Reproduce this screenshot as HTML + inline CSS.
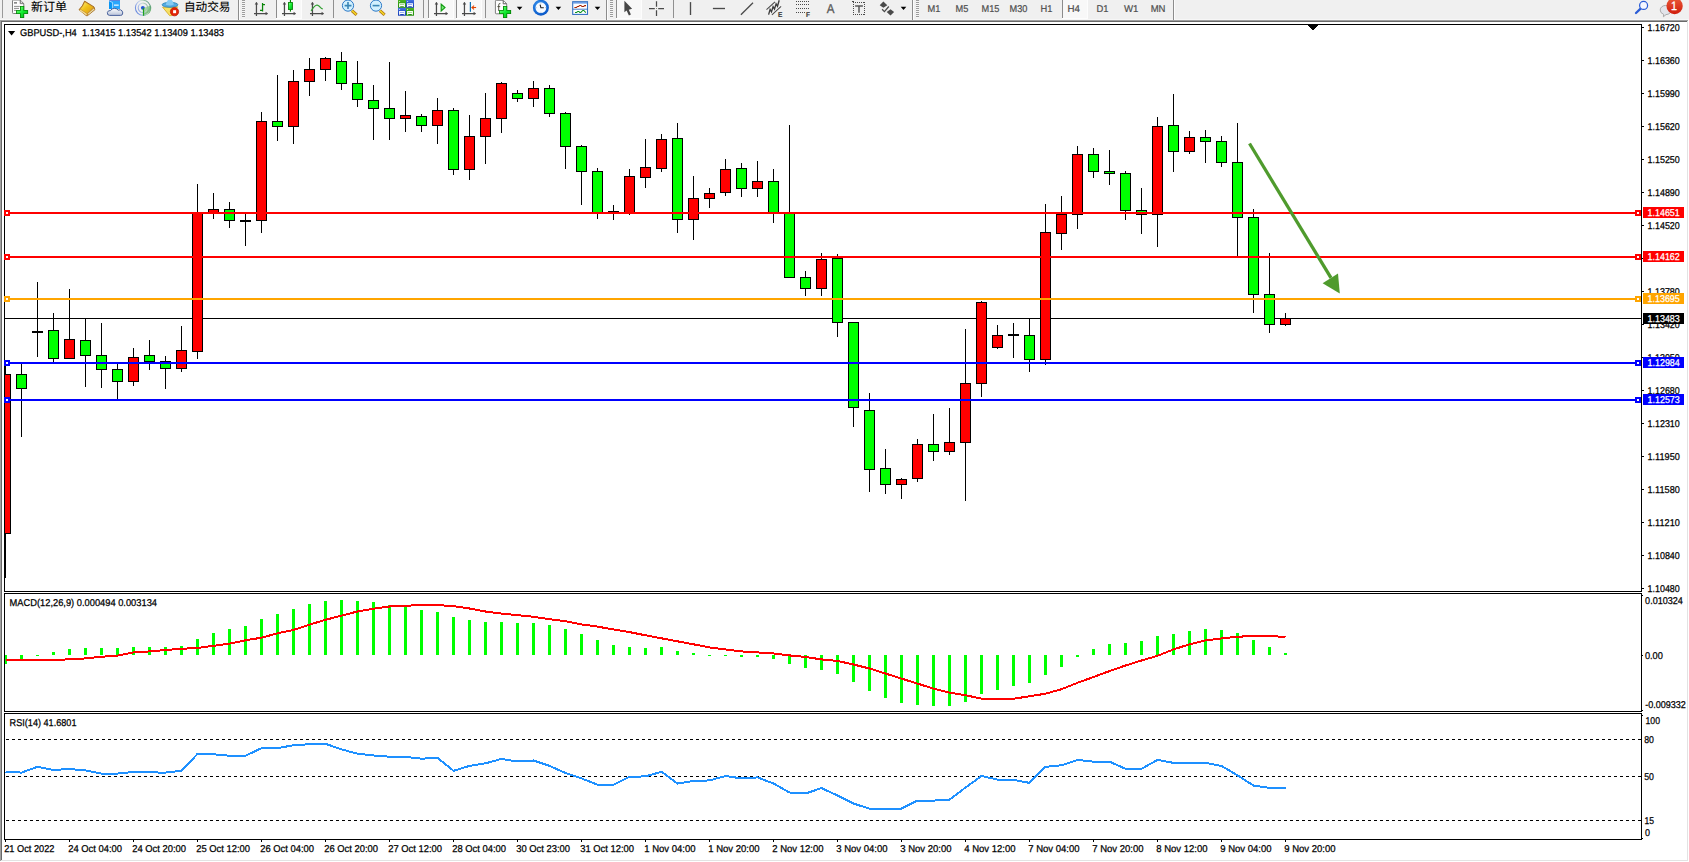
<!DOCTYPE html>
<html lang="zh"><head><meta charset="utf-8"><title>GBPUSD-,H4</title>
<style>html,body{margin:0;padding:0;background:#f0f0f0;overflow:hidden}svg text{font-family:"Liberation Sans","Noto Sans CJK SC",sans-serif}</style></head>
<body>
<svg width="1689" height="862" viewBox="0 0 1689 862" font-family="Liberation Sans, Noto Sans CJK SC, sans-serif" style="display:block">
<defs><clipPath id="cm"><rect x="5" y="25" width="1636" height="566"/></clipPath><clipPath id="c2"><rect x="5" y="594" width="1636" height="117"/></clipPath><clipPath id="c3"><rect x="5" y="714" width="1636" height="125"/></clipPath><linearGradient id="gp" x1="0" y1="0" x2="1" y2="1"><stop offset="0" stop-color="#8cff8c"/><stop offset="0.5" stop-color="#10ec30"/><stop offset="1" stop-color="#00b814"/></linearGradient><linearGradient id="gy" x1="0" y1="0" x2="1" y2="1"><stop offset="0" stop-color="#fff080"/><stop offset="0.45" stop-color="#f0c21c"/><stop offset="1" stop-color="#dc9a10"/></linearGradient><linearGradient id="gr" x1="0" y1="0" x2="0" y2="1"><stop offset="0" stop-color="#ea5a38"/><stop offset="1" stop-color="#d01c0c"/></linearGradient><linearGradient id="gc" x1="0" y1="0" x2="0" y2="1"><stop offset="0" stop-color="#ffffff"/><stop offset="1" stop-color="#b8c2d8"/></linearGradient><linearGradient id="gg" x1="0" y1="0" x2="0" y2="1"><stop offset="0" stop-color="#4ab422"/><stop offset="1" stop-color="#1f8a08"/></linearGradient><linearGradient id="gbl" x1="0" y1="0" x2="0" y2="1"><stop offset="0" stop-color="#4272e2"/><stop offset="1" stop-color="#1038b2"/></linearGradient><linearGradient id="gs" x1="0" y1="0" x2="1" y2="1"><stop offset="0" stop-color="#cfe8c8" stop-opacity="0.8"/><stop offset="1" stop-color="#2f9f2f"/></linearGradient><linearGradient id="gsig" gradientUnits="userSpaceOnUse" x1="135" y1="12" x2="151" y2="4"><stop offset="0" stop-color="#3c68d8"/><stop offset="0.45" stop-color="#b8c8ec"/><stop offset="0.6" stop-color="#c4dcc8"/><stop offset="1" stop-color="#2c7c5c"/></linearGradient><radialGradient id="gb" cx="0.4" cy="0.35" r="0.7"><stop offset="0" stop-color="#3f9cf4"/><stop offset="1" stop-color="#0452c4"/></radialGradient></defs>
<rect width="1689" height="862" fill="#f0f0f0"/>
<g shape-rendering="crispEdges">
<rect x="0" y="19" width="1689" height="1" fill="#f7f7f7"/>
<rect x="0" y="20" width="1689" height="842" fill="#fff"/>
<rect x="0" y="20" width="1688" height="1" fill="#a0a0a0"/>
<rect x="0" y="20" width="1" height="841" fill="#a0a0a0"/>
<rect x="1" y="21" width="1687" height="1" fill="#696969"/>
<rect x="1" y="21" width="1" height="839" fill="#696969"/>
<rect x="1687" y="21" width="1" height="840" fill="#e3e3e3"/>
<rect x="1" y="860" width="1687" height="1" fill="#e3e3e3"/>
</g>
<g shape-rendering="crispEdges">
<g clip-path="url(#cm)">
<rect x="5" y="318" width="1636" height="1" fill="#000"/>
<rect x="5" y="364" width="1" height="214" fill="#000"/>
<rect x="0" y="374" width="11" height="160" fill="#000"/>
<rect x="1" y="375" width="9" height="158" fill="#ff0000"/>
<rect x="21" y="364" width="1" height="73" fill="#000"/>
<rect x="16" y="374" width="11" height="15" fill="#000"/>
<rect x="17" y="375" width="9" height="13" fill="#00ff00"/>
<rect x="37" y="282" width="1" height="75" fill="#000"/>
<rect x="32" y="331" width="11" height="2" fill="#000"/>
<rect x="53" y="313" width="1" height="49" fill="#000"/>
<rect x="48" y="330" width="11" height="29" fill="#000"/>
<rect x="49" y="331" width="9" height="27" fill="#00ff00"/>
<rect x="69" y="289" width="1" height="70" fill="#000"/>
<rect x="64" y="339" width="11" height="20" fill="#000"/>
<rect x="65" y="340" width="9" height="18" fill="#ff0000"/>
<rect x="85" y="319" width="1" height="68" fill="#000"/>
<rect x="80" y="340" width="11" height="16" fill="#000"/>
<rect x="81" y="341" width="9" height="14" fill="#00ff00"/>
<rect x="101" y="323" width="1" height="65" fill="#000"/>
<rect x="96" y="355" width="11" height="15" fill="#000"/>
<rect x="97" y="356" width="9" height="13" fill="#00ff00"/>
<rect x="117" y="364" width="1" height="35" fill="#000"/>
<rect x="112" y="369" width="11" height="13" fill="#000"/>
<rect x="113" y="370" width="9" height="11" fill="#00ff00"/>
<rect x="133" y="348" width="1" height="38" fill="#000"/>
<rect x="128" y="357" width="11" height="25" fill="#000"/>
<rect x="129" y="358" width="9" height="23" fill="#ff0000"/>
<rect x="149" y="340" width="1" height="30" fill="#000"/>
<rect x="144" y="355" width="11" height="7" fill="#000"/>
<rect x="145" y="356" width="9" height="5" fill="#00ff00"/>
<rect x="165" y="356" width="1" height="33" fill="#000"/>
<rect x="160" y="361" width="11" height="8" fill="#000"/>
<rect x="161" y="362" width="9" height="6" fill="#00ff00"/>
<rect x="181" y="326" width="1" height="46" fill="#000"/>
<rect x="176" y="350" width="11" height="19" fill="#000"/>
<rect x="177" y="351" width="9" height="17" fill="#ff0000"/>
<rect x="197" y="184" width="1" height="175" fill="#000"/>
<rect x="192" y="213" width="11" height="139" fill="#000"/>
<rect x="193" y="214" width="9" height="137" fill="#ff0000"/>
<rect x="213" y="193" width="1" height="26" fill="#000"/>
<rect x="208" y="209" width="11" height="5" fill="#000"/>
<rect x="209" y="210" width="9" height="3" fill="#ff0000"/>
<rect x="229" y="202" width="1" height="26" fill="#000"/>
<rect x="224" y="209" width="11" height="12" fill="#000"/>
<rect x="225" y="210" width="9" height="10" fill="#00ff00"/>
<rect x="245" y="213" width="1" height="33" fill="#000"/>
<rect x="240" y="220" width="11" height="2" fill="#000"/>
<rect x="261" y="112" width="1" height="121" fill="#000"/>
<rect x="256" y="121" width="11" height="100" fill="#000"/>
<rect x="257" y="122" width="9" height="98" fill="#ff0000"/>
<rect x="277" y="75" width="1" height="66" fill="#000"/>
<rect x="272" y="121" width="11" height="6" fill="#000"/>
<rect x="273" y="122" width="9" height="4" fill="#00ff00"/>
<rect x="293" y="70" width="1" height="74" fill="#000"/>
<rect x="288" y="81" width="11" height="46" fill="#000"/>
<rect x="289" y="82" width="9" height="44" fill="#ff0000"/>
<rect x="309" y="58" width="1" height="38" fill="#000"/>
<rect x="304" y="69" width="11" height="13" fill="#000"/>
<rect x="305" y="70" width="9" height="11" fill="#ff0000"/>
<rect x="325" y="57" width="1" height="24" fill="#000"/>
<rect x="320" y="58" width="11" height="12" fill="#000"/>
<rect x="321" y="59" width="9" height="10" fill="#ff0000"/>
<rect x="341" y="52" width="1" height="38" fill="#000"/>
<rect x="336" y="61" width="11" height="23" fill="#000"/>
<rect x="337" y="62" width="9" height="21" fill="#00ff00"/>
<rect x="357" y="61" width="1" height="46" fill="#000"/>
<rect x="352" y="83" width="11" height="17" fill="#000"/>
<rect x="353" y="84" width="9" height="15" fill="#00ff00"/>
<rect x="373" y="85" width="1" height="55" fill="#000"/>
<rect x="368" y="100" width="11" height="9" fill="#000"/>
<rect x="369" y="101" width="9" height="7" fill="#00ff00"/>
<rect x="389" y="62" width="1" height="78" fill="#000"/>
<rect x="384" y="108" width="11" height="11" fill="#000"/>
<rect x="385" y="109" width="9" height="9" fill="#00ff00"/>
<rect x="405" y="91" width="1" height="41" fill="#000"/>
<rect x="400" y="115" width="11" height="4" fill="#000"/>
<rect x="401" y="116" width="9" height="2" fill="#ff0000"/>
<rect x="421" y="114" width="1" height="18" fill="#000"/>
<rect x="416" y="116" width="11" height="10" fill="#000"/>
<rect x="417" y="117" width="9" height="8" fill="#00ff00"/>
<rect x="437" y="98" width="1" height="46" fill="#000"/>
<rect x="432" y="110" width="11" height="16" fill="#000"/>
<rect x="433" y="111" width="9" height="14" fill="#ff0000"/>
<rect x="453" y="108" width="1" height="67" fill="#000"/>
<rect x="448" y="110" width="11" height="60" fill="#000"/>
<rect x="449" y="111" width="9" height="58" fill="#00ff00"/>
<rect x="469" y="115" width="1" height="65" fill="#000"/>
<rect x="464" y="136" width="11" height="34" fill="#000"/>
<rect x="465" y="137" width="9" height="32" fill="#ff0000"/>
<rect x="485" y="93" width="1" height="71" fill="#000"/>
<rect x="480" y="118" width="11" height="19" fill="#000"/>
<rect x="481" y="119" width="9" height="17" fill="#ff0000"/>
<rect x="501" y="82" width="1" height="51" fill="#000"/>
<rect x="496" y="83" width="11" height="36" fill="#000"/>
<rect x="497" y="84" width="9" height="34" fill="#ff0000"/>
<rect x="517" y="90" width="1" height="12" fill="#000"/>
<rect x="512" y="93" width="11" height="6" fill="#000"/>
<rect x="513" y="94" width="9" height="4" fill="#00ff00"/>
<rect x="533" y="81" width="1" height="26" fill="#000"/>
<rect x="528" y="88" width="11" height="11" fill="#000"/>
<rect x="529" y="89" width="9" height="9" fill="#ff0000"/>
<rect x="549" y="85" width="1" height="32" fill="#000"/>
<rect x="544" y="88" width="11" height="26" fill="#000"/>
<rect x="545" y="89" width="9" height="24" fill="#00ff00"/>
<rect x="565" y="112" width="1" height="57" fill="#000"/>
<rect x="560" y="113" width="11" height="34" fill="#000"/>
<rect x="561" y="114" width="9" height="32" fill="#00ff00"/>
<rect x="581" y="145" width="1" height="60" fill="#000"/>
<rect x="576" y="146" width="11" height="26" fill="#000"/>
<rect x="577" y="147" width="9" height="24" fill="#00ff00"/>
<rect x="597" y="168" width="1" height="51" fill="#000"/>
<rect x="592" y="171" width="11" height="42" fill="#000"/>
<rect x="593" y="172" width="9" height="40" fill="#00ff00"/>
<rect x="613" y="205" width="1" height="15" fill="#000"/>
<rect x="608" y="211" width="11" height="2" fill="#000"/>
<rect x="629" y="169" width="1" height="46" fill="#000"/>
<rect x="624" y="176" width="11" height="38" fill="#000"/>
<rect x="625" y="177" width="9" height="36" fill="#ff0000"/>
<rect x="645" y="139" width="1" height="49" fill="#000"/>
<rect x="640" y="167" width="11" height="11" fill="#000"/>
<rect x="641" y="168" width="9" height="9" fill="#ff0000"/>
<rect x="661" y="134" width="1" height="38" fill="#000"/>
<rect x="656" y="139" width="11" height="30" fill="#000"/>
<rect x="657" y="140" width="9" height="28" fill="#ff0000"/>
<rect x="677" y="123" width="1" height="110" fill="#000"/>
<rect x="672" y="138" width="11" height="82" fill="#000"/>
<rect x="673" y="139" width="9" height="80" fill="#00ff00"/>
<rect x="693" y="176" width="1" height="64" fill="#000"/>
<rect x="688" y="198" width="11" height="22" fill="#000"/>
<rect x="689" y="199" width="9" height="20" fill="#ff0000"/>
<rect x="709" y="188" width="1" height="20" fill="#000"/>
<rect x="704" y="193" width="11" height="6" fill="#000"/>
<rect x="705" y="194" width="9" height="4" fill="#ff0000"/>
<rect x="725" y="159" width="1" height="37" fill="#000"/>
<rect x="720" y="169" width="11" height="24" fill="#000"/>
<rect x="721" y="170" width="9" height="22" fill="#ff0000"/>
<rect x="741" y="163" width="1" height="34" fill="#000"/>
<rect x="736" y="168" width="11" height="21" fill="#000"/>
<rect x="737" y="169" width="9" height="19" fill="#00ff00"/>
<rect x="757" y="161" width="1" height="36" fill="#000"/>
<rect x="752" y="181" width="11" height="8" fill="#000"/>
<rect x="753" y="182" width="9" height="6" fill="#ff0000"/>
<rect x="773" y="169" width="1" height="54" fill="#000"/>
<rect x="768" y="181" width="11" height="33" fill="#000"/>
<rect x="769" y="182" width="9" height="31" fill="#00ff00"/>
<rect x="789" y="125" width="1" height="153" fill="#000"/>
<rect x="784" y="213" width="11" height="65" fill="#000"/>
<rect x="785" y="214" width="9" height="63" fill="#00ff00"/>
<rect x="805" y="271" width="1" height="25" fill="#000"/>
<rect x="800" y="277" width="11" height="12" fill="#000"/>
<rect x="801" y="278" width="9" height="10" fill="#00ff00"/>
<rect x="821" y="253" width="1" height="43" fill="#000"/>
<rect x="816" y="259" width="11" height="30" fill="#000"/>
<rect x="817" y="260" width="9" height="28" fill="#ff0000"/>
<rect x="837" y="254" width="1" height="83" fill="#000"/>
<rect x="832" y="258" width="11" height="65" fill="#000"/>
<rect x="833" y="259" width="9" height="63" fill="#00ff00"/>
<rect x="853" y="322" width="1" height="105" fill="#000"/>
<rect x="848" y="322" width="11" height="86" fill="#000"/>
<rect x="849" y="323" width="9" height="84" fill="#00ff00"/>
<rect x="869" y="393" width="1" height="99" fill="#000"/>
<rect x="864" y="410" width="11" height="60" fill="#000"/>
<rect x="865" y="411" width="9" height="58" fill="#00ff00"/>
<rect x="885" y="449" width="1" height="45" fill="#000"/>
<rect x="880" y="468" width="11" height="17" fill="#000"/>
<rect x="881" y="469" width="9" height="15" fill="#00ff00"/>
<rect x="901" y="478" width="1" height="21" fill="#000"/>
<rect x="896" y="479" width="11" height="6" fill="#000"/>
<rect x="897" y="480" width="9" height="4" fill="#ff0000"/>
<rect x="917" y="439" width="1" height="43" fill="#000"/>
<rect x="912" y="444" width="11" height="35" fill="#000"/>
<rect x="913" y="445" width="9" height="33" fill="#ff0000"/>
<rect x="933" y="414" width="1" height="47" fill="#000"/>
<rect x="928" y="444" width="11" height="8" fill="#000"/>
<rect x="929" y="445" width="9" height="6" fill="#00ff00"/>
<rect x="949" y="408" width="1" height="47" fill="#000"/>
<rect x="944" y="442" width="11" height="10" fill="#000"/>
<rect x="945" y="443" width="9" height="8" fill="#ff0000"/>
<rect x="965" y="329" width="1" height="172" fill="#000"/>
<rect x="960" y="383" width="11" height="60" fill="#000"/>
<rect x="961" y="384" width="9" height="58" fill="#ff0000"/>
<rect x="981" y="301" width="1" height="96" fill="#000"/>
<rect x="976" y="302" width="11" height="82" fill="#000"/>
<rect x="977" y="303" width="9" height="80" fill="#ff0000"/>
<rect x="997" y="325" width="1" height="24" fill="#000"/>
<rect x="992" y="335" width="11" height="13" fill="#000"/>
<rect x="993" y="336" width="9" height="11" fill="#ff0000"/>
<rect x="1013" y="323" width="1" height="35" fill="#000"/>
<rect x="1008" y="334" width="11" height="2" fill="#000"/>
<rect x="1029" y="319" width="1" height="53" fill="#000"/>
<rect x="1024" y="335" width="11" height="25" fill="#000"/>
<rect x="1025" y="336" width="9" height="23" fill="#00ff00"/>
<rect x="1045" y="204" width="1" height="161" fill="#000"/>
<rect x="1040" y="232" width="11" height="128" fill="#000"/>
<rect x="1041" y="233" width="9" height="126" fill="#ff0000"/>
<rect x="1061" y="196" width="1" height="54" fill="#000"/>
<rect x="1056" y="214" width="11" height="20" fill="#000"/>
<rect x="1057" y="215" width="9" height="18" fill="#ff0000"/>
<rect x="1077" y="146" width="1" height="83" fill="#000"/>
<rect x="1072" y="154" width="11" height="61" fill="#000"/>
<rect x="1073" y="155" width="9" height="59" fill="#ff0000"/>
<rect x="1093" y="148" width="1" height="30" fill="#000"/>
<rect x="1088" y="154" width="11" height="18" fill="#000"/>
<rect x="1089" y="155" width="9" height="16" fill="#00ff00"/>
<rect x="1109" y="150" width="1" height="35" fill="#000"/>
<rect x="1104" y="171" width="11" height="3" fill="#000"/>
<rect x="1105" y="172" width="9" height="1" fill="#00ff00"/>
<rect x="1125" y="171" width="1" height="49" fill="#000"/>
<rect x="1120" y="173" width="11" height="38" fill="#000"/>
<rect x="1121" y="174" width="9" height="36" fill="#00ff00"/>
<rect x="1141" y="188" width="1" height="46" fill="#000"/>
<rect x="1136" y="210" width="11" height="5" fill="#000"/>
<rect x="1137" y="211" width="9" height="3" fill="#00ff00"/>
<rect x="1157" y="117" width="1" height="130" fill="#000"/>
<rect x="1152" y="126" width="11" height="89" fill="#000"/>
<rect x="1153" y="127" width="9" height="87" fill="#ff0000"/>
<rect x="1173" y="94" width="1" height="78" fill="#000"/>
<rect x="1168" y="125" width="11" height="27" fill="#000"/>
<rect x="1169" y="126" width="9" height="25" fill="#00ff00"/>
<rect x="1189" y="131" width="1" height="23" fill="#000"/>
<rect x="1184" y="137" width="11" height="15" fill="#000"/>
<rect x="1185" y="138" width="9" height="13" fill="#ff0000"/>
<rect x="1205" y="130" width="1" height="33" fill="#000"/>
<rect x="1200" y="137" width="11" height="5" fill="#000"/>
<rect x="1201" y="138" width="9" height="3" fill="#00ff00"/>
<rect x="1221" y="136" width="1" height="31" fill="#000"/>
<rect x="1216" y="141" width="11" height="22" fill="#000"/>
<rect x="1217" y="142" width="9" height="20" fill="#00ff00"/>
<rect x="1237" y="123" width="1" height="133" fill="#000"/>
<rect x="1232" y="162" width="11" height="56" fill="#000"/>
<rect x="1233" y="163" width="9" height="54" fill="#00ff00"/>
<rect x="1253" y="209" width="1" height="104" fill="#000"/>
<rect x="1248" y="217" width="11" height="78" fill="#000"/>
<rect x="1249" y="218" width="9" height="76" fill="#00ff00"/>
<rect x="1269" y="253" width="1" height="80" fill="#000"/>
<rect x="1264" y="294" width="11" height="31" fill="#000"/>
<rect x="1265" y="295" width="9" height="29" fill="#00ff00"/>
<rect x="1285" y="313" width="1" height="13" fill="#000"/>
<rect x="1280" y="318" width="11" height="7" fill="#000"/>
<rect x="1281" y="319" width="9" height="5" fill="#ff0000"/>
</g>
<rect x="5" y="212" width="1636" height="2" fill="#ff0000"/>
<rect x="5" y="256" width="1636" height="2" fill="#ff0000"/>
<rect x="5" y="298" width="1636" height="2" fill="#ffa500"/>
<rect x="5" y="362" width="1636" height="2" fill="#0000ff"/>
<rect x="5" y="399" width="1636" height="2" fill="#0000ff"/>
</g>
<g fill="#4f9b2d" stroke="none"><path d="M1248.1 144.3 L1250.9 142.7 L1332.4 277.0 L1329.6 278.8 Z"/><path d="M1322.6 283.2 L1338.0 273.6 L1339.8 293.6 Z"/></g>
<g shape-rendering="crispEdges">
<rect x="4" y="24" width="1638" height="1" fill="#000"/>
<rect x="4" y="591" width="1638" height="1" fill="#000"/>
<rect x="4" y="593" width="1638" height="1" fill="#000"/>
<rect x="4" y="711" width="1638" height="1" fill="#000"/>
<rect x="4" y="713" width="1638" height="1" fill="#000"/>
<rect x="4" y="839" width="1638" height="1" fill="#000"/>
<rect x="4" y="24" width="1" height="568" fill="#000"/>
<rect x="1641" y="24" width="1" height="568" fill="#000"/>
<rect x="4" y="593" width="1" height="119" fill="#000"/>
<rect x="1641" y="593" width="1" height="119" fill="#000"/>
<rect x="4" y="713" width="1" height="127" fill="#000"/>
<rect x="1641" y="713" width="1" height="127" fill="#000"/>
<rect x="4" y="210" width="6" height="6" fill="#ff0000"/>
<rect x="6" y="212" width="2" height="2" fill="#fff"/>
<rect x="1635" y="210" width="6" height="6" fill="#ff0000"/>
<rect x="1637" y="212" width="2" height="2" fill="#fff"/>
<rect x="4" y="254" width="6" height="6" fill="#ff0000"/>
<rect x="6" y="256" width="2" height="2" fill="#fff"/>
<rect x="1635" y="254" width="6" height="6" fill="#ff0000"/>
<rect x="1637" y="256" width="2" height="2" fill="#fff"/>
<rect x="4" y="296" width="6" height="6" fill="#ffa500"/>
<rect x="6" y="298" width="2" height="2" fill="#fff"/>
<rect x="1635" y="296" width="6" height="6" fill="#ffa500"/>
<rect x="1637" y="298" width="2" height="2" fill="#fff"/>
<rect x="4" y="360" width="6" height="6" fill="#0000ff"/>
<rect x="6" y="362" width="2" height="2" fill="#fff"/>
<rect x="1635" y="360" width="6" height="6" fill="#0000ff"/>
<rect x="1637" y="362" width="2" height="2" fill="#fff"/>
<rect x="4" y="397" width="6" height="6" fill="#0000ff"/>
<rect x="6" y="399" width="2" height="2" fill="#fff"/>
<rect x="1635" y="397" width="6" height="6" fill="#0000ff"/>
<rect x="1637" y="399" width="2" height="2" fill="#fff"/>
<rect x="1642" y="27" width="2" height="1" fill="#000"/>
<rect x="1642" y="60" width="2" height="1" fill="#000"/>
<rect x="1642" y="93" width="2" height="1" fill="#000"/>
<rect x="1642" y="126" width="2" height="1" fill="#000"/>
<rect x="1642" y="159" width="2" height="1" fill="#000"/>
<rect x="1642" y="192" width="2" height="1" fill="#000"/>
<rect x="1642" y="225" width="2" height="1" fill="#000"/>
<rect x="1642" y="258" width="2" height="1" fill="#000"/>
<rect x="1642" y="291" width="2" height="1" fill="#000"/>
<rect x="1642" y="324" width="2" height="1" fill="#000"/>
<rect x="1642" y="357" width="2" height="1" fill="#000"/>
<rect x="1642" y="390" width="2" height="1" fill="#000"/>
<rect x="1642" y="423" width="2" height="1" fill="#000"/>
<rect x="1642" y="456" width="2" height="1" fill="#000"/>
<rect x="1642" y="489" width="2" height="1" fill="#000"/>
<rect x="1642" y="522" width="2" height="1" fill="#000"/>
<rect x="1642" y="555" width="2" height="1" fill="#000"/>
<rect x="1642" y="588" width="2" height="1" fill="#000"/>
<rect x="1308" y="25" width="10" height="1" fill="#000"/>
<rect x="1309" y="26" width="8" height="1" fill="#000"/>
<rect x="1310" y="27" width="6" height="1" fill="#000"/>
<rect x="1311" y="28" width="4" height="1" fill="#000"/>
<rect x="1312" y="29" width="2" height="1" fill="#000"/>
<path d="M8 31 L15.2 31 L11.6 35.4 Z" fill="#000" shape-rendering="geometricPrecision"/>
</g>
<text x="1647.5" y="30.8" font-size="9.9" fill="#000" stroke="#000" stroke-width="0.25" text-rendering="geometricPrecision" textLength="32.3" lengthAdjust="spacingAndGlyphs"  xml:space="preserve">1.16720</text>
<text x="1647.5" y="63.8" font-size="9.9" fill="#000" stroke="#000" stroke-width="0.25" text-rendering="geometricPrecision" textLength="32.3" lengthAdjust="spacingAndGlyphs"  xml:space="preserve">1.16360</text>
<text x="1647.5" y="96.8" font-size="9.9" fill="#000" stroke="#000" stroke-width="0.25" text-rendering="geometricPrecision" textLength="32.3" lengthAdjust="spacingAndGlyphs"  xml:space="preserve">1.15990</text>
<text x="1647.5" y="129.8" font-size="9.9" fill="#000" stroke="#000" stroke-width="0.25" text-rendering="geometricPrecision" textLength="32.3" lengthAdjust="spacingAndGlyphs"  xml:space="preserve">1.15620</text>
<text x="1647.5" y="162.8" font-size="9.9" fill="#000" stroke="#000" stroke-width="0.25" text-rendering="geometricPrecision" textLength="32.3" lengthAdjust="spacingAndGlyphs"  xml:space="preserve">1.15250</text>
<text x="1647.5" y="195.8" font-size="9.9" fill="#000" stroke="#000" stroke-width="0.25" text-rendering="geometricPrecision" textLength="32.3" lengthAdjust="spacingAndGlyphs"  xml:space="preserve">1.14890</text>
<text x="1647.5" y="228.8" font-size="9.9" fill="#000" stroke="#000" stroke-width="0.25" text-rendering="geometricPrecision" textLength="32.3" lengthAdjust="spacingAndGlyphs"  xml:space="preserve">1.14520</text>
<text x="1647.5" y="294.8" font-size="9.9" fill="#000" stroke="#000" stroke-width="0.25" text-rendering="geometricPrecision" textLength="32.3" lengthAdjust="spacingAndGlyphs"  xml:space="preserve">1.13780</text>
<text x="1647.5" y="327.8" font-size="9.9" fill="#000" stroke="#000" stroke-width="0.25" text-rendering="geometricPrecision" textLength="32.3" lengthAdjust="spacingAndGlyphs"  xml:space="preserve">1.13420</text>
<text x="1647.5" y="360.8" font-size="9.9" fill="#000" stroke="#000" stroke-width="0.25" text-rendering="geometricPrecision" textLength="32.3" lengthAdjust="spacingAndGlyphs"  xml:space="preserve">1.13050</text>
<text x="1647.5" y="393.8" font-size="9.9" fill="#000" stroke="#000" stroke-width="0.25" text-rendering="geometricPrecision" textLength="32.3" lengthAdjust="spacingAndGlyphs"  xml:space="preserve">1.12680</text>
<text x="1647.5" y="426.8" font-size="9.9" fill="#000" stroke="#000" stroke-width="0.25" text-rendering="geometricPrecision" textLength="32.3" lengthAdjust="spacingAndGlyphs"  xml:space="preserve">1.12310</text>
<text x="1647.5" y="459.8" font-size="9.9" fill="#000" stroke="#000" stroke-width="0.25" text-rendering="geometricPrecision" textLength="32.3" lengthAdjust="spacingAndGlyphs"  xml:space="preserve">1.11950</text>
<text x="1647.5" y="492.8" font-size="9.9" fill="#000" stroke="#000" stroke-width="0.25" text-rendering="geometricPrecision" textLength="32.3" lengthAdjust="spacingAndGlyphs"  xml:space="preserve">1.11580</text>
<text x="1647.5" y="525.8" font-size="9.9" fill="#000" stroke="#000" stroke-width="0.25" text-rendering="geometricPrecision" textLength="32.3" lengthAdjust="spacingAndGlyphs"  xml:space="preserve">1.11210</text>
<text x="1647.5" y="558.8" font-size="9.9" fill="#000" stroke="#000" stroke-width="0.25" text-rendering="geometricPrecision" textLength="32.3" lengthAdjust="spacingAndGlyphs"  xml:space="preserve">1.10840</text>
<text x="1647.5" y="591.8" font-size="9.9" fill="#000" stroke="#000" stroke-width="0.25" text-rendering="geometricPrecision" textLength="32.3" lengthAdjust="spacingAndGlyphs"  xml:space="preserve">1.10480</text>
<g shape-rendering="crispEdges">
<rect x="1643" y="207" width="41" height="11" fill="#ff0000"/>
<rect x="1643" y="251" width="41" height="11" fill="#ff0000"/>
<rect x="1643" y="293" width="41" height="11" fill="#ffa500"/>
<rect x="1643" y="357" width="41" height="11" fill="#0000ff"/>
<rect x="1643" y="394" width="41" height="11" fill="#0000ff"/>
<rect x="1643" y="313" width="41" height="11" fill="#000"/>
</g>
<text x="1647.5" y="215.8" font-size="9.9" fill="#fff" stroke="#fff" stroke-width="0.25" text-rendering="geometricPrecision" textLength="32.3" lengthAdjust="spacingAndGlyphs"  xml:space="preserve">1.14651</text>
<text x="1647.5" y="259.8" font-size="9.9" fill="#fff" stroke="#fff" stroke-width="0.25" text-rendering="geometricPrecision" textLength="32.3" lengthAdjust="spacingAndGlyphs"  xml:space="preserve">1.14162</text>
<text x="1647.5" y="301.8" font-size="9.9" fill="#fff" stroke="#fff" stroke-width="0.25" text-rendering="geometricPrecision" textLength="32.3" lengthAdjust="spacingAndGlyphs"  xml:space="preserve">1.13695</text>
<text x="1647.5" y="365.8" font-size="9.9" fill="#fff" stroke="#fff" stroke-width="0.25" text-rendering="geometricPrecision" textLength="32.3" lengthAdjust="spacingAndGlyphs"  xml:space="preserve">1.12984</text>
<text x="1647.5" y="402.8" font-size="9.9" fill="#fff" stroke="#fff" stroke-width="0.25" text-rendering="geometricPrecision" textLength="32.3" lengthAdjust="spacingAndGlyphs"  xml:space="preserve">1.12573</text>
<text x="1647.5" y="321.8" font-size="9.9" fill="#fff" stroke="#fff" stroke-width="0.25" text-rendering="geometricPrecision" textLength="32.3" lengthAdjust="spacingAndGlyphs"  xml:space="preserve">1.13483</text>
<text x="20" y="35.8" font-size="9.9" fill="#000" stroke="#000" stroke-width="0.25" text-rendering="geometricPrecision" textLength="204" lengthAdjust="spacingAndGlyphs"  xml:space="preserve">GBPUSD-,H4  1.13415 1.13542 1.13409 1.13483</text>
<g shape-rendering="crispEdges" clip-path="url(#c2)">
<rect x="4" y="655" width="3" height="9" fill="#00ff00"/>
<rect x="20" y="655" width="3" height="5" fill="#00ff00"/>
<rect x="36" y="655" width="3" height="1" fill="#00ff00"/>
<rect x="52" y="652" width="3" height="3" fill="#00ff00"/>
<rect x="68" y="649" width="3" height="6" fill="#00ff00"/>
<rect x="84" y="648" width="3" height="7" fill="#00ff00"/>
<rect x="100" y="648" width="3" height="7" fill="#00ff00"/>
<rect x="116" y="648" width="3" height="7" fill="#00ff00"/>
<rect x="132" y="647" width="3" height="8" fill="#00ff00"/>
<rect x="148" y="647" width="3" height="8" fill="#00ff00"/>
<rect x="164" y="647" width="3" height="8" fill="#00ff00"/>
<rect x="180" y="646" width="3" height="9" fill="#00ff00"/>
<rect x="196" y="639" width="3" height="16" fill="#00ff00"/>
<rect x="212" y="633" width="3" height="22" fill="#00ff00"/>
<rect x="228" y="629" width="3" height="26" fill="#00ff00"/>
<rect x="244" y="626" width="3" height="29" fill="#00ff00"/>
<rect x="260" y="619" width="3" height="36" fill="#00ff00"/>
<rect x="276" y="614" width="3" height="41" fill="#00ff00"/>
<rect x="292" y="609" width="3" height="46" fill="#00ff00"/>
<rect x="308" y="604" width="3" height="51" fill="#00ff00"/>
<rect x="324" y="601" width="3" height="54" fill="#00ff00"/>
<rect x="340" y="600" width="3" height="55" fill="#00ff00"/>
<rect x="356" y="601" width="3" height="54" fill="#00ff00"/>
<rect x="372" y="602" width="3" height="53" fill="#00ff00"/>
<rect x="388" y="605" width="3" height="50" fill="#00ff00"/>
<rect x="404" y="607" width="3" height="48" fill="#00ff00"/>
<rect x="420" y="610" width="3" height="45" fill="#00ff00"/>
<rect x="436" y="612" width="3" height="43" fill="#00ff00"/>
<rect x="452" y="617" width="3" height="38" fill="#00ff00"/>
<rect x="468" y="620" width="3" height="35" fill="#00ff00"/>
<rect x="484" y="622" width="3" height="33" fill="#00ff00"/>
<rect x="500" y="622" width="3" height="33" fill="#00ff00"/>
<rect x="516" y="623" width="3" height="32" fill="#00ff00"/>
<rect x="532" y="623" width="3" height="32" fill="#00ff00"/>
<rect x="548" y="625" width="3" height="30" fill="#00ff00"/>
<rect x="564" y="629" width="3" height="26" fill="#00ff00"/>
<rect x="580" y="634" width="3" height="21" fill="#00ff00"/>
<rect x="596" y="640" width="3" height="15" fill="#00ff00"/>
<rect x="612" y="645" width="3" height="10" fill="#00ff00"/>
<rect x="628" y="647" width="3" height="8" fill="#00ff00"/>
<rect x="644" y="648" width="3" height="7" fill="#00ff00"/>
<rect x="660" y="647" width="3" height="8" fill="#00ff00"/>
<rect x="676" y="651" width="3" height="4" fill="#00ff00"/>
<rect x="692" y="653" width="3" height="2" fill="#00ff00"/>
<rect x="708" y="655" width="3" height="1" fill="#00ff00"/>
<rect x="724" y="655" width="3" height="1" fill="#00ff00"/>
<rect x="740" y="655" width="3" height="2" fill="#00ff00"/>
<rect x="756" y="655" width="3" height="2" fill="#00ff00"/>
<rect x="772" y="655" width="3" height="4" fill="#00ff00"/>
<rect x="788" y="655" width="3" height="9" fill="#00ff00"/>
<rect x="804" y="655" width="3" height="13" fill="#00ff00"/>
<rect x="820" y="655" width="3" height="15" fill="#00ff00"/>
<rect x="836" y="655" width="3" height="19" fill="#00ff00"/>
<rect x="852" y="655" width="3" height="27" fill="#00ff00"/>
<rect x="868" y="655" width="3" height="36" fill="#00ff00"/>
<rect x="884" y="655" width="3" height="43" fill="#00ff00"/>
<rect x="900" y="655" width="3" height="48" fill="#00ff00"/>
<rect x="916" y="655" width="3" height="50" fill="#00ff00"/>
<rect x="932" y="655" width="3" height="51" fill="#00ff00"/>
<rect x="948" y="655" width="3" height="51" fill="#00ff00"/>
<rect x="964" y="655" width="3" height="47" fill="#00ff00"/>
<rect x="980" y="655" width="3" height="39" fill="#00ff00"/>
<rect x="996" y="655" width="3" height="35" fill="#00ff00"/>
<rect x="1012" y="655" width="3" height="31" fill="#00ff00"/>
<rect x="1028" y="655" width="3" height="28" fill="#00ff00"/>
<rect x="1044" y="655" width="3" height="20" fill="#00ff00"/>
<rect x="1060" y="655" width="3" height="12" fill="#00ff00"/>
<rect x="1076" y="655" width="3" height="2" fill="#00ff00"/>
<rect x="1092" y="649" width="3" height="6" fill="#00ff00"/>
<rect x="1108" y="644" width="3" height="11" fill="#00ff00"/>
<rect x="1124" y="643" width="3" height="12" fill="#00ff00"/>
<rect x="1140" y="641" width="3" height="14" fill="#00ff00"/>
<rect x="1156" y="636" width="3" height="19" fill="#00ff00"/>
<rect x="1172" y="634" width="3" height="21" fill="#00ff00"/>
<rect x="1188" y="631" width="3" height="24" fill="#00ff00"/>
<rect x="1204" y="629" width="3" height="26" fill="#00ff00"/>
<rect x="1220" y="630" width="3" height="25" fill="#00ff00"/>
<rect x="1236" y="633" width="3" height="22" fill="#00ff00"/>
<rect x="1252" y="640" width="3" height="15" fill="#00ff00"/>
<rect x="1268" y="647" width="3" height="8" fill="#00ff00"/>
<rect x="1284" y="653" width="3" height="2" fill="#00ff00"/>
<polyline points="5.5,659.8 21.5,659.8 37.5,659.8 53.5,659.8 69.5,659.4 85.5,658.4 101.5,656.8 117.5,655.6 133.5,652.4 149.5,651.4 165.5,650 181.5,648.8 197.5,648 213.5,645.8 229.5,643.7 245.5,640.3 261.5,637.7 277.5,633.3 293.5,629.9 309.5,624.6 325.5,619.8 341.5,615.6 357.5,611.5 373.5,608.7 389.5,606.5 405.5,605.7 421.5,605.1 437.5,605.1 453.5,606.1 469.5,608.5 485.5,611.5 501.5,613.6 517.5,615.2 533.5,616.8 549.5,619.2 565.5,621.2 581.5,624.4 597.5,626.6 613.5,629.5 629.5,632.1 645.5,635.3 661.5,638.3 677.5,641.3 693.5,644.3 709.5,647.4 725.5,649.4 741.5,651.4 757.5,652.4 773.5,653.4 789.5,655.4 805.5,657 821.5,659.4 837.5,661 853.5,664.5 869.5,668.5 885.5,673.5 901.5,678.6 917.5,683.6 933.5,688.6 949.5,692.7 965.5,695.2 981.5,698.7 997.5,698.9 1013.5,698.7 1029.5,696.3 1045.5,693.7 1061.5,689.2 1077.5,682.8 1093.5,677 1109.5,671.1 1125.5,665.5 1141.5,660.5 1157.5,655.8 1173.5,649.4 1189.5,644.3 1205.5,640.3 1221.5,638.5 1237.5,636.7 1253.5,636.1 1269.5,636.1 1285.5,636.9" fill="none" stroke="#ff0000" stroke-width="2"/>
</g>
<g shape-rendering="crispEdges">
<rect x="1642" y="595" width="1" height="1" fill="#000"/>
<rect x="1642" y="655" width="1" height="1" fill="#000"/>
<rect x="1642" y="710" width="1" height="1" fill="#000"/>
</g>
<text x="9.6" y="605.8" font-size="9.9" fill="#000" stroke="#000" stroke-width="0.25" text-rendering="geometricPrecision" textLength="147.4" lengthAdjust="spacingAndGlyphs"  xml:space="preserve">MACD(12,26,9) 0.000494 0.003134</text>
<text x="1645.1" y="603.8" font-size="9.9" fill="#000" stroke="#000" stroke-width="0.25" text-rendering="geometricPrecision" textLength="37.8" lengthAdjust="spacingAndGlyphs"  xml:space="preserve">0.010324</text>
<text x="1644.9" y="658.8" font-size="9.9" fill="#000" stroke="#000" stroke-width="0.25" text-rendering="geometricPrecision" textLength="18" lengthAdjust="spacingAndGlyphs"  xml:space="preserve">0.00</text>
<text x="1645.2" y="707.8" font-size="9.9" fill="#000" stroke="#000" stroke-width="0.25" text-rendering="geometricPrecision" textLength="40.7" lengthAdjust="spacingAndGlyphs"  xml:space="preserve">-0.009332</text>
<g shape-rendering="crispEdges" clip-path="url(#c3)">
<line x1="6" x2="1641" y1="739.5" y2="739.5" stroke="#000" stroke-width="1" stroke-dasharray="3 3"/>
<line x1="6" x2="1641" y1="776.5" y2="776.5" stroke="#000" stroke-width="1" stroke-dasharray="3 3"/>
<line x1="6" x2="1641" y1="820.5" y2="820.5" stroke="#000" stroke-width="1" stroke-dasharray="3 3"/>
<polyline points="5.5,771.8 21.5,772.6 37.5,766.8 53.5,770 69.5,769 85.5,770.4 101.5,773.6 117.5,773.6 133.5,772 149.5,772.4 165.5,772.6 181.5,770.8 197.5,753.9 213.5,754.3 229.5,755.7 245.5,755.7 261.5,748.2 277.5,748.2 293.5,745.2 309.5,744.2 325.5,743.8 341.5,749.4 357.5,753.7 373.5,755.5 389.5,756.7 405.5,756.9 421.5,758.7 437.5,757.9 453.5,770.8 469.5,765.9 485.5,763.3 501.5,758.9 517.5,761.5 533.5,760.5 549.5,765.9 565.5,773 581.5,778.4 597.5,784.7 613.5,784.7 629.5,776.8 645.5,776.4 661.5,771.8 677.5,783.5 693.5,781 709.5,780.4 725.5,776 741.5,778.4 757.5,777.4 773.5,783.5 789.5,792.5 805.5,793.5 821.5,788.1 837.5,795.5 853.5,803.6 869.5,808.6 885.5,808.6 901.5,808.6 917.5,800.6 933.5,800.6 949.5,799.6 965.5,787.5 981.5,776 997.5,779.6 1013.5,779.8 1029.5,782.9 1045.5,766.8 1061.5,765.3 1077.5,759.9 1093.5,761.7 1109.5,761.7 1125.5,768.8 1141.5,768.8 1157.5,759.9 1173.5,762.9 1189.5,762.9 1205.5,762.9 1221.5,765.9 1237.5,775.4 1253.5,785.5 1269.5,787.9 1285.5,787.9" fill="none" stroke="#1e90ff" stroke-width="2"/>
</g>
<g shape-rendering="crispEdges">
<rect x="1642" y="715" width="1" height="1" fill="#000"/>
<rect x="1642" y="838" width="1" height="1" fill="#000"/>
<rect x="5" y="840" width="1" height="2" fill="#000"/>
<rect x="69" y="840" width="1" height="2" fill="#000"/>
<rect x="133" y="840" width="1" height="2" fill="#000"/>
<rect x="197" y="840" width="1" height="2" fill="#000"/>
<rect x="261" y="840" width="1" height="2" fill="#000"/>
<rect x="325" y="840" width="1" height="2" fill="#000"/>
<rect x="389" y="840" width="1" height="2" fill="#000"/>
<rect x="453" y="840" width="1" height="2" fill="#000"/>
<rect x="517" y="840" width="1" height="2" fill="#000"/>
<rect x="581" y="840" width="1" height="2" fill="#000"/>
<rect x="645" y="840" width="1" height="2" fill="#000"/>
<rect x="709" y="840" width="1" height="2" fill="#000"/>
<rect x="773" y="840" width="1" height="2" fill="#000"/>
<rect x="837" y="840" width="1" height="2" fill="#000"/>
<rect x="901" y="840" width="1" height="2" fill="#000"/>
<rect x="965" y="840" width="1" height="2" fill="#000"/>
<rect x="1029" y="840" width="1" height="2" fill="#000"/>
<rect x="1093" y="840" width="1" height="2" fill="#000"/>
<rect x="1157" y="840" width="1" height="2" fill="#000"/>
<rect x="1221" y="840" width="1" height="2" fill="#000"/>
<rect x="1285" y="840" width="1" height="2" fill="#000"/>
</g>
<text x="9.6" y="725.8" font-size="9.9" fill="#000" stroke="#000" stroke-width="0.25" text-rendering="geometricPrecision" textLength="66.9" lengthAdjust="spacingAndGlyphs"  xml:space="preserve">RSI(14) 41.6801</text>
<text x="1645.5" y="723.8" font-size="9.9" fill="#000" stroke="#000" stroke-width="0.25" text-rendering="geometricPrecision" textLength="14.5" lengthAdjust="spacingAndGlyphs"  xml:space="preserve">100</text>
<text x="1644.2" y="742.8" font-size="9.9" fill="#000" stroke="#000" stroke-width="0.25" text-rendering="geometricPrecision" textLength="9.7" lengthAdjust="spacingAndGlyphs"  xml:space="preserve">80</text>
<text x="1644.2" y="779.8" font-size="9.9" fill="#000" stroke="#000" stroke-width="0.25" text-rendering="geometricPrecision" textLength="9.7" lengthAdjust="spacingAndGlyphs"  xml:space="preserve">50</text>
<text x="1644.6" y="823.8" font-size="9.9" fill="#000" stroke="#000" stroke-width="0.25" text-rendering="geometricPrecision" textLength="9.5" lengthAdjust="spacingAndGlyphs"  xml:space="preserve">15</text>
<text x="1645.1" y="835.8" font-size="9.9" fill="#000" stroke="#000" stroke-width="0.25" text-rendering="geometricPrecision" textLength="5" lengthAdjust="spacingAndGlyphs"  xml:space="preserve">0</text>
<text x="4.2" y="851.8" font-size="9.9" fill="#000" stroke="#000" stroke-width="0.25" text-rendering="geometricPrecision" textLength="50.3" lengthAdjust="spacingAndGlyphs"  xml:space="preserve">21 Oct 2022</text>
<text x="68.2" y="851.8" font-size="9.9" fill="#000" stroke="#000" stroke-width="0.25" text-rendering="geometricPrecision" textLength="53.9" lengthAdjust="spacingAndGlyphs"  xml:space="preserve">24 Oct 04:00</text>
<text x="132.2" y="851.8" font-size="9.9" fill="#000" stroke="#000" stroke-width="0.25" text-rendering="geometricPrecision" textLength="53.9" lengthAdjust="spacingAndGlyphs"  xml:space="preserve">24 Oct 20:00</text>
<text x="196.2" y="851.8" font-size="9.9" fill="#000" stroke="#000" stroke-width="0.25" text-rendering="geometricPrecision" textLength="53.9" lengthAdjust="spacingAndGlyphs"  xml:space="preserve">25 Oct 12:00</text>
<text x="260.2" y="851.8" font-size="9.9" fill="#000" stroke="#000" stroke-width="0.25" text-rendering="geometricPrecision" textLength="53.9" lengthAdjust="spacingAndGlyphs"  xml:space="preserve">26 Oct 04:00</text>
<text x="324.2" y="851.8" font-size="9.9" fill="#000" stroke="#000" stroke-width="0.25" text-rendering="geometricPrecision" textLength="53.9" lengthAdjust="spacingAndGlyphs"  xml:space="preserve">26 Oct 20:00</text>
<text x="388.2" y="851.8" font-size="9.9" fill="#000" stroke="#000" stroke-width="0.25" text-rendering="geometricPrecision" textLength="53.9" lengthAdjust="spacingAndGlyphs"  xml:space="preserve">27 Oct 12:00</text>
<text x="452.2" y="851.8" font-size="9.9" fill="#000" stroke="#000" stroke-width="0.25" text-rendering="geometricPrecision" textLength="53.9" lengthAdjust="spacingAndGlyphs"  xml:space="preserve">28 Oct 04:00</text>
<text x="516.2" y="851.8" font-size="9.9" fill="#000" stroke="#000" stroke-width="0.25" text-rendering="geometricPrecision" textLength="53.9" lengthAdjust="spacingAndGlyphs"  xml:space="preserve">30 Oct 23:00</text>
<text x="580.2" y="851.8" font-size="9.9" fill="#000" stroke="#000" stroke-width="0.25" text-rendering="geometricPrecision" textLength="53.9" lengthAdjust="spacingAndGlyphs"  xml:space="preserve">31 Oct 12:00</text>
<text x="644.2" y="851.8" font-size="9.9" fill="#000" stroke="#000" stroke-width="0.25" text-rendering="geometricPrecision" textLength="51.4" lengthAdjust="spacingAndGlyphs"  xml:space="preserve">1 Nov 04:00</text>
<text x="708.2" y="851.8" font-size="9.9" fill="#000" stroke="#000" stroke-width="0.25" text-rendering="geometricPrecision" textLength="51.4" lengthAdjust="spacingAndGlyphs"  xml:space="preserve">1 Nov 20:00</text>
<text x="772.2" y="851.8" font-size="9.9" fill="#000" stroke="#000" stroke-width="0.25" text-rendering="geometricPrecision" textLength="51.4" lengthAdjust="spacingAndGlyphs"  xml:space="preserve">2 Nov 12:00</text>
<text x="836.2" y="851.8" font-size="9.9" fill="#000" stroke="#000" stroke-width="0.25" text-rendering="geometricPrecision" textLength="51.4" lengthAdjust="spacingAndGlyphs"  xml:space="preserve">3 Nov 04:00</text>
<text x="900.2" y="851.8" font-size="9.9" fill="#000" stroke="#000" stroke-width="0.25" text-rendering="geometricPrecision" textLength="51.4" lengthAdjust="spacingAndGlyphs"  xml:space="preserve">3 Nov 20:00</text>
<text x="964.2" y="851.8" font-size="9.9" fill="#000" stroke="#000" stroke-width="0.25" text-rendering="geometricPrecision" textLength="51.4" lengthAdjust="spacingAndGlyphs"  xml:space="preserve">4 Nov 12:00</text>
<text x="1028.2" y="851.8" font-size="9.9" fill="#000" stroke="#000" stroke-width="0.25" text-rendering="geometricPrecision" textLength="51.4" lengthAdjust="spacingAndGlyphs"  xml:space="preserve">7 Nov 04:00</text>
<text x="1092.2" y="851.8" font-size="9.9" fill="#000" stroke="#000" stroke-width="0.25" text-rendering="geometricPrecision" textLength="51.4" lengthAdjust="spacingAndGlyphs"  xml:space="preserve">7 Nov 20:00</text>
<text x="1156.2" y="851.8" font-size="9.9" fill="#000" stroke="#000" stroke-width="0.25" text-rendering="geometricPrecision" textLength="51.4" lengthAdjust="spacingAndGlyphs"  xml:space="preserve">8 Nov 12:00</text>
<text x="1220.2" y="851.8" font-size="9.9" fill="#000" stroke="#000" stroke-width="0.25" text-rendering="geometricPrecision" textLength="51.4" lengthAdjust="spacingAndGlyphs"  xml:space="preserve">9 Nov 04:00</text>
<text x="1284.2" y="851.8" font-size="9.9" fill="#000" stroke="#000" stroke-width="0.25" text-rendering="geometricPrecision" textLength="51.4" lengthAdjust="spacingAndGlyphs"  xml:space="preserve">9 Nov 20:00</text>
<g>
<rect x="2" y="0" width="1" height="18" fill="#9a9a9a" shape-rendering="crispEdges"/>
<path d="M13.3 0.0 H20.1 L23.8 3.7 V12.7 Q23.8 13.5 23.0 13.5 H13.3 Q12.5 13.5 12.5 12.7 V0.8 Q12.5 0.0 13.3 0.0 Z" fill="#fdfdfd" stroke="#808080" stroke-width="1"/>
<path d="M20.1 0.0 V3.7 H23.8 Z" fill="#8a8a8a" stroke="#707070" stroke-width="0.6"/>
<rect x="21.0" y="1.6" width="1.1" height="1.1" fill="#fff"/>
<rect x="14" y="2" width="3" height="1.7" fill="#8a8a8a"/>
<path d="M14 6.4 H19.8 M14 8.4 H19 M14 10.4 H16.5" stroke="#808080" stroke-width="0.9" fill="none"/>
<path d="M20.0 6.0 H24.200000000000003 V9.9 H28.1 V14.1 H24.200000000000003 V18.0 H20.0 V14.1 H16.1 V9.9 H20.0 Z" fill="#078407"/>
<path d="M20.85 6.85 H23.35 V10.75 H27.25 V13.25 H23.35 V17.15 H20.85 V13.25 H16.950000000000003 V10.75 H20.85 Z" fill="url(#gp)"/>
<text x="31" y="11.3" font-size="12" fill="#000" stroke="#000" stroke-width="0.12" text-rendering="geometricPrecision" textLength="36" lengthAdjust="spacingAndGlyphs"  xml:space="preserve">新订单</text>
<path d="M84.6 1.1 L94 6.9 L94.9 9.7 L87.6 15.6 L86.2 15.6 L79 9.7 Q82.8 6.2 84.6 1.1 Z" fill="#c89030" stroke="#9a5e0c" stroke-width="0.8" stroke-linejoin="round"/>
<path d="M84.9 2.2 L93.2 7.3 L87 13.2 L80.6 8.9 Q83.6 5.6 84.9 2.2 Z" fill="url(#gy)"/>
<path d="M80 10 L86.6 14.6" stroke="#f4dc90" stroke-width="1.3" fill="none"/>
<path d="M88.2 14.2 L94.2 9" stroke="#e6dcae" stroke-width="1.1" fill="none"/>
<path d="M109 0 H120 V9 H109 Z" fill="#2aa6fc"/>
<path d="M109 0 H120 V0.8 H109 Z" fill="#6a7cd8"/>
<path d="M109 0.8 L112.6 2.6 V9 H109 Z" fill="#0a96f4"/>
<path d="M109.2 0.9 L112.6 2.6 V9" stroke="#d8f0ff" stroke-width="0.7" fill="none"/>
<rect x="114" y="4.5" width="4.7" height="1.3" fill="#e8f6ff"/>
<path d="M109.6 15.4 Q106.9 15.2 107.4 12.4 Q108 10.2 110.6 10.6 Q111.6 8.2 114.6 8.4 Q117 8.4 118.2 10.2 Q120.6 9 122 10.8 Q123.6 13 122 15 Q121.4 15.4 120.4 15.4 Z" fill="url(#gc)" stroke="#4a629c" stroke-width="1"/>
<path d="M143.4 7.8 V15.7 A7.9 7.9 0 0 0 150.9 5.4 Z" fill="url(#gs)"/>
<g fill="none" stroke-width="1.05"><circle cx="142.9" cy="7.8" r="7.5" stroke="url(#gsig)" opacity="0.85"/><circle cx="142.9" cy="7.8" r="4.7" stroke="url(#gsig)" opacity="0.8"/></g><circle cx="142.8" cy="7.8" r="1.9" fill="#2456d2"/><path d="M143.5 8 V15.8" stroke="#1ea01e" stroke-width="1.25"/>
<path d="M162.6 7.2 L177.6 6.8 L171.8 15.6 H169.6 Z" fill="#f6e062" stroke="#d2a418" stroke-width="0.8" stroke-linejoin="round"/>
<ellipse cx="170" cy="4.8" rx="7.9" ry="2.5" fill="#54aae2" stroke="#2784b4" stroke-width="0.8"/>
<path d="M165.9 4.8 Q166 1.4 168 0 H171.8 Q173.6 1.4 173.7 4.8 Q169.8 6 165.9 4.8 Z" fill="#86caf2"/>
<circle cx="174.5" cy="11.7" r="4.15" fill="#e42406" stroke="#b41404" stroke-width="0.7"/><rect x="173.1" y="10.2" width="3" height="3" fill="#fff"/>
<text x="184" y="10.9" font-size="11.7" fill="#000" stroke="#000" stroke-width="0.12" text-rendering="geometricPrecision" textLength="46.5" lengthAdjust="spacingAndGlyphs"  xml:space="preserve">自动交易</text>
<rect x="238" y="0" width="1" height="20" fill="#8c8c8c" shape-rendering="crispEdges"/>
<rect x="239" y="0" width="1" height="20" fill="#fcfcfc" shape-rendering="crispEdges"/>
<rect x="242" y="0" width="3" height="1" fill="#9c9c9c" shape-rendering="crispEdges"/>
<rect x="242" y="1" width="3" height="1" fill="#f6f6f6" shape-rendering="crispEdges"/>
<rect x="242" y="2" width="3" height="1" fill="#9c9c9c" shape-rendering="crispEdges"/>
<rect x="242" y="3" width="3" height="1" fill="#f6f6f6" shape-rendering="crispEdges"/>
<rect x="242" y="4" width="3" height="1" fill="#9c9c9c" shape-rendering="crispEdges"/>
<rect x="242" y="5" width="3" height="1" fill="#f6f6f6" shape-rendering="crispEdges"/>
<rect x="242" y="6" width="3" height="1" fill="#9c9c9c" shape-rendering="crispEdges"/>
<rect x="242" y="7" width="3" height="1" fill="#f6f6f6" shape-rendering="crispEdges"/>
<rect x="242" y="8" width="3" height="1" fill="#9c9c9c" shape-rendering="crispEdges"/>
<rect x="242" y="9" width="3" height="1" fill="#f6f6f6" shape-rendering="crispEdges"/>
<rect x="242" y="10" width="3" height="1" fill="#9c9c9c" shape-rendering="crispEdges"/>
<rect x="242" y="11" width="3" height="1" fill="#f6f6f6" shape-rendering="crispEdges"/>
<rect x="242" y="12" width="3" height="1" fill="#9c9c9c" shape-rendering="crispEdges"/>
<rect x="242" y="13" width="3" height="1" fill="#f6f6f6" shape-rendering="crispEdges"/>
<rect x="242" y="14" width="3" height="1" fill="#9c9c9c" shape-rendering="crispEdges"/>
<rect x="242" y="15" width="3" height="1" fill="#f6f6f6" shape-rendering="crispEdges"/>
<rect x="242" y="16" width="3" height="1" fill="#9c9c9c" shape-rendering="crispEdges"/>
<rect x="242" y="17" width="3" height="1" fill="#f6f6f6" shape-rendering="crispEdges"/>
<g stroke="#4a4a4a" stroke-width="1.25" fill="none"><path d="M256.45 2.4 V16 M254 13.55 H267.4"/></g><path d="M254.7 4.4 L256.45 1.9 L258.2 4.4 Z M265.6 11.8 L268 13.55 L265.6 15.3 Z" fill="#4a4a4a"/>
<path d="M262.55 3.1 V11.6 M260 10.4 H262.55 M262.55 4.5 H265" stroke="#0a860a" stroke-width="1.25" fill="none"/>
<rect x="277" y="0" width="24" height="18" fill="#f8f8f8" shape-rendering="crispEdges"/>
<rect x="276" y="0" width="1" height="18" fill="#8c8c8c" shape-rendering="crispEdges"/>
<rect x="301" y="0" width="1" height="19" fill="#fdfdfd" shape-rendering="crispEdges"/>
<rect x="276" y="18" width="25" height="1" fill="#fdfdfd" shape-rendering="crispEdges"/>
<g stroke="#4a4a4a" stroke-width="1.25" fill="none"><path d="M284.45 2.4 V16 M282 13.55 H295.4"/></g><path d="M282.7 4.4 L284.45 1.9 L286.2 4.4 Z M293.6 11.8 L296 13.55 L293.6 15.3 Z" fill="#4a4a4a"/>
<path d="M290.45 0 V11.6" stroke="#088408" stroke-width="1.15"/><rect x="288.55" y="2.55" width="3.9" height="6.95" fill="url(#gp)" stroke="#088408" stroke-width="0.9"/>
<g stroke="#4a4a4a" stroke-width="1.25" fill="none"><path d="M312.45 2.4 V16 M310 13.55 H323.4"/></g><path d="M310.7 4.4 L312.45 1.9 L314.2 4.4 Z M321.6 11.8 L324 13.55 L321.6 15.3 Z" fill="#4a4a4a"/>
<path d="M311.1 10.8 Q315.4 4.2 317.4 5.2 Q319 5.6 320.6 7.6 Q321.6 8.6 322.8 9" stroke="#2f9f2f" stroke-width="1.25" fill="none"/>
<rect x="333" y="0" width="1" height="18" fill="#909090" shape-rendering="crispEdges"/>
<path d="M351.9 10.6 L356.6 14.8" stroke="#a86c10" stroke-width="3.1" stroke-linecap="butt"/>
<path d="M351.9 10.6 L356.4 14.6" stroke="#f2d424" stroke-width="1.7" stroke-linecap="butt"/>
<circle cx="348" cy="5.6" r="5.6" fill="#d2f0fe" stroke="#2a78c6" stroke-width="1.0"/>
<path d="M344.6 5.6 H351.5 M348 2.1 V9.1" stroke="#3a86b6" stroke-width="1.6"/>
<path d="M379.9 10.6 L384.6 14.8" stroke="#a86c10" stroke-width="3.1" stroke-linecap="butt"/>
<path d="M379.9 10.6 L384.4 14.6" stroke="#f2d424" stroke-width="1.7" stroke-linecap="butt"/>
<circle cx="376" cy="5.6" r="5.6" fill="#d2f0fe" stroke="#2a78c6" stroke-width="1.0"/>
<path d="M372.6 5.6 H379.5" stroke="#3a86b6" stroke-width="1.6"/>
<rect x="398" y="0" width="8" height="7.85" fill="url(#gg)"/>
<path d="M399.1 3.2 H404.9 V7 H403.8 V6.2 H400.2 V7 H399.1 Z" fill="#fff"/>
<rect x="400" y="4.1" width="4" height="0.9" fill="#9ad08a"/>
<rect x="399.1" y="1.1" width="1" height="0.9" fill="#fff" opacity="0.85"/>
<rect x="406" y="0" width="8" height="7.85" fill="url(#gbl)"/>
<path d="M407.1 3.2 H412.9 V7 H411.8 V6.2 H408.2 V7 H407.1 Z" fill="#fff"/>
<rect x="408" y="4.1" width="4" height="0.9" fill="#8aa4ec"/>
<rect x="407.1" y="1.1" width="1" height="0.9" fill="#fff" opacity="0.85"/>
<rect x="398" y="7.85" width="8" height="7.85" fill="url(#gbl)"/>
<path d="M399.1 11.05 H404.9 V14.85 H403.8 V14.05 H400.2 V14.85 H399.1 Z" fill="#fff"/>
<rect x="400" y="11.95" width="4" height="0.9" fill="#8aa4ec"/>
<rect x="399.1" y="8.95" width="1" height="0.9" fill="#fff" opacity="0.85"/>
<rect x="406" y="7.85" width="8" height="7.85" fill="url(#gg)"/>
<path d="M407.1 11.05 H412.9 V14.85 H411.8 V14.05 H408.2 V14.85 H407.1 Z" fill="#fff"/>
<rect x="408" y="11.95" width="4" height="0.9" fill="#9ad08a"/>
<rect x="407.1" y="8.95" width="1" height="0.9" fill="#fff" opacity="0.85"/>
<rect x="423" y="0" width="1" height="18" fill="#909090" shape-rendering="crispEdges"/>
<rect x="429" y="0" width="24" height="18" fill="#f8f8f8" shape-rendering="crispEdges"/>
<rect x="428" y="0" width="1" height="18" fill="#8c8c8c" shape-rendering="crispEdges"/>
<rect x="453" y="0" width="1" height="19" fill="#fdfdfd" shape-rendering="crispEdges"/>
<rect x="428" y="18" width="25" height="1" fill="#fdfdfd" shape-rendering="crispEdges"/>
<g stroke="#4a4a4a" stroke-width="1.25" fill="none"><path d="M436.45 2.4 V16 M434 13.55 H447.4"/></g><path d="M434.7 4.4 L436.45 1.9 L438.2 4.4 Z M445.6 11.8 L448 13.55 L445.6 15.3 Z" fill="#4a4a4a"/>
<path d="M441.2 4.2 L445 7.6 L441.2 11 Z" fill="#7aec7a" stroke="#0f9a0f" stroke-width="1.15" stroke-linejoin="miter"/>
<rect x="457" y="0" width="24" height="18" fill="#f8f8f8" shape-rendering="crispEdges"/>
<rect x="456" y="0" width="1" height="18" fill="#8c8c8c" shape-rendering="crispEdges"/>
<rect x="481" y="0" width="1" height="19" fill="#fdfdfd" shape-rendering="crispEdges"/>
<rect x="456" y="18" width="25" height="1" fill="#fdfdfd" shape-rendering="crispEdges"/>
<g stroke="#4a4a4a" stroke-width="1.25" fill="none"><path d="M464.45 2.4 V16 M462 13.55 H475.4"/></g><path d="M462.7 4.4 L464.45 1.9 L466.2 4.4 Z M473.6 11.8 L476 13.55 L473.6 15.3 Z" fill="#4a4a4a"/>
<path d="M470.4 2 V11.8" stroke="#0f70b2" stroke-width="1.25"/><path d="M471.3 7.5 L473.9 5.4 L473.3 7.5 L473.9 9.7 Z" fill="#e24400" stroke="#e24400" stroke-width="0.4"/><path d="M473 7.5 H476.1" stroke="#e24400" stroke-width="1.1"/>
<rect x="485" y="0" width="1" height="18" fill="#909090" shape-rendering="crispEdges"/>
<path d="M496.2 0.3 H503.0 L506.7 4.0 V13.0 Q506.7 13.8 505.9 13.8 H496.2 Q495.4 13.8 495.4 13.0 V1.1 Q495.4 0.3 496.2 0.3 Z" fill="#fdfdfd" stroke="#808080" stroke-width="1"/>
<path d="M503.0 0.3 V4.0 H506.7 Z" fill="#8a8a8a" stroke="#707070" stroke-width="0.6"/>
<rect x="503.9" y="1.9000000000000001" width="1.1" height="1.1" fill="#fff"/>
<path d="M500.4 3.4 Q498.7 3.2 498.7 5 V11 M497.4 6.6 H500.2" stroke="#4a4a3a" stroke-width="0.9" fill="none"/>
<path d="M503.0 6.0 H507.20000000000005 V9.9 H511.1 V14.1 H507.20000000000005 V18.0 H503.0 V14.1 H499.1 V9.9 H503.0 Z" fill="#078407"/>
<path d="M503.85 6.85 H506.35 V10.75 H510.25 V13.25 H506.35 V17.15 H503.85 V13.25 H499.95000000000005 V10.75 H503.85 Z" fill="url(#gp)"/>
<path d="M516.8 6.8 L522.4 6.8 L519.5999999999999 10.1 Z" fill="#000"/>
<circle cx="540.9" cy="7.7" r="8" fill="url(#gb)"/><circle cx="540.9" cy="7.7" r="5.4" fill="#f6faff"/><path d="M539.4 0 H542.4 V1 H539.4 Z" fill="#1a6fd8"/>
<g stroke="#9aa4b4" stroke-width="0.6"><path d="M540.9 2.6 V3.6 M540.9 11.8 V12.8 M535.8 7.7 H536.8 M545 7.7 H546"/></g>
<path d="M540.1 4.6 L540.9 7.8 L543.8 7.8" stroke="#202020" stroke-width="1.1" fill="none"/>
<path d="M555.6 6.8 L561.2 6.8 L558.4 10.1 Z" fill="#000"/>
<rect x="572.7" y="1.7" width="14.8" height="12.7" fill="#fff" stroke="#3270c2" stroke-width="1.1"/>
<rect x="573" y="2" width="14.2" height="1.6" fill="#6a9ee4"/><path d="M573 9.2 H587.2" stroke="#3270c2" stroke-width="0.9"/>
<path d="M574.4 7.4 H576.4 L577.6 6.4 H578.6 L579.8 5.4 H580.8 L582 6.4 H583.6 L584.8 5.6 H586" stroke="#a42200" stroke-width="1.05" fill="none"/>
<path d="M575 12.4 H576.6 L577.8 11.4 H578.8 L579.8 12.4 H580.8 L582.8 10.4 H583.8 L585.8 12.6" stroke="#0e9220" stroke-width="1.05" fill="none"/>
<path d="M594.7 6.8 L600.3000000000001 6.8 L597.5 10.1 Z" fill="#000"/>
<rect x="606" y="0" width="1" height="20" fill="#8c8c8c" shape-rendering="crispEdges"/>
<rect x="607" y="0" width="1" height="20" fill="#fcfcfc" shape-rendering="crispEdges"/>
<rect x="610" y="0" width="3" height="1" fill="#9c9c9c" shape-rendering="crispEdges"/>
<rect x="610" y="1" width="3" height="1" fill="#f6f6f6" shape-rendering="crispEdges"/>
<rect x="610" y="2" width="3" height="1" fill="#9c9c9c" shape-rendering="crispEdges"/>
<rect x="610" y="3" width="3" height="1" fill="#f6f6f6" shape-rendering="crispEdges"/>
<rect x="610" y="4" width="3" height="1" fill="#9c9c9c" shape-rendering="crispEdges"/>
<rect x="610" y="5" width="3" height="1" fill="#f6f6f6" shape-rendering="crispEdges"/>
<rect x="610" y="6" width="3" height="1" fill="#9c9c9c" shape-rendering="crispEdges"/>
<rect x="610" y="7" width="3" height="1" fill="#f6f6f6" shape-rendering="crispEdges"/>
<rect x="610" y="8" width="3" height="1" fill="#9c9c9c" shape-rendering="crispEdges"/>
<rect x="610" y="9" width="3" height="1" fill="#f6f6f6" shape-rendering="crispEdges"/>
<rect x="610" y="10" width="3" height="1" fill="#9c9c9c" shape-rendering="crispEdges"/>
<rect x="610" y="11" width="3" height="1" fill="#f6f6f6" shape-rendering="crispEdges"/>
<rect x="610" y="12" width="3" height="1" fill="#9c9c9c" shape-rendering="crispEdges"/>
<rect x="610" y="13" width="3" height="1" fill="#f6f6f6" shape-rendering="crispEdges"/>
<rect x="610" y="14" width="3" height="1" fill="#9c9c9c" shape-rendering="crispEdges"/>
<rect x="610" y="15" width="3" height="1" fill="#f6f6f6" shape-rendering="crispEdges"/>
<rect x="610" y="16" width="3" height="1" fill="#9c9c9c" shape-rendering="crispEdges"/>
<rect x="610" y="17" width="3" height="1" fill="#f6f6f6" shape-rendering="crispEdges"/>
<rect x="617" y="0" width="24" height="18" fill="#f8f8f8" shape-rendering="crispEdges"/>
<rect x="616" y="0" width="1" height="18" fill="#8c8c8c" shape-rendering="crispEdges"/>
<rect x="641" y="0" width="1" height="19" fill="#fdfdfd" shape-rendering="crispEdges"/>
<rect x="616" y="18" width="25" height="1" fill="#fdfdfd" shape-rendering="crispEdges"/>
<path d="M624.4 0.8 V12.3 L626.6 10.5 L628.9 15.4 L630.9 14.4 L628.8 9.7 L632.1 8.7 Z" fill="#474747"/>
<path d="M649 8.5 H654.8 M658.2 8.5 H664 M656.5 1.2 V6.8 M656.5 10.2 V16" stroke="#4a4a4a" stroke-width="1.25"/><rect x="656" y="8" width="1" height="1" fill="#8a8a7a"/>
<rect x="673" y="0" width="1" height="18" fill="#909090" shape-rendering="crispEdges"/>
<path d="M690.5 2.1 V15" stroke="#4a4a4a" stroke-width="1.35"/>
<path d="M712.9 8.5 H725" stroke="#4a4a4a" stroke-width="1.35"/>
<path d="M740.9 14.7 L753 2.8" stroke="#4a4a4a" stroke-width="1.3"/>
<g stroke="#4a4a4a" fill="none"><path d="M766.5 9.6 L775 1.8 M771.9 14.9 L781.1 6.4" stroke-width="1.05"/><path d="M768.6 14.6 L770.1 9.4 L771.5 11.8 L773.1 6.6 L774.5 9 L776.1 3.8 L777.5 6.2 L779.2 0.2" stroke-width="1.35" stroke="#3c3c3c"/></g>
<g opacity="0.99"><text x="777.9" y="16.8" font-size="7" fill="#3c3c3c" stroke="#3c3c3c" stroke-width="0.2" text-rendering="geometricPrecision" textLength="4.3" lengthAdjust="spacingAndGlyphs" font-weight="bold" xml:space="preserve">E</text></g>
<rect x="796" y="1" width="1" height="1" fill="#4a4a4a" shape-rendering="crispEdges"/>
<rect x="798" y="1" width="1" height="1" fill="#4a4a4a" shape-rendering="crispEdges"/>
<rect x="800" y="1" width="1" height="1" fill="#4a4a4a" shape-rendering="crispEdges"/>
<rect x="802" y="1" width="1" height="1" fill="#4a4a4a" shape-rendering="crispEdges"/>
<rect x="804" y="1" width="1" height="1" fill="#4a4a4a" shape-rendering="crispEdges"/>
<rect x="806" y="1" width="1" height="1" fill="#4a4a4a" shape-rendering="crispEdges"/>
<rect x="808" y="1" width="1" height="1" fill="#4a4a4a" shape-rendering="crispEdges"/>
<rect x="796" y="4" width="1" height="1" fill="#4a4a4a" shape-rendering="crispEdges"/>
<rect x="798" y="4" width="1" height="1" fill="#4a4a4a" shape-rendering="crispEdges"/>
<rect x="800" y="4" width="1" height="1" fill="#4a4a4a" shape-rendering="crispEdges"/>
<rect x="802" y="4" width="1" height="1" fill="#4a4a4a" shape-rendering="crispEdges"/>
<rect x="804" y="4" width="1" height="1" fill="#4a4a4a" shape-rendering="crispEdges"/>
<rect x="806" y="4" width="1" height="1" fill="#4a4a4a" shape-rendering="crispEdges"/>
<rect x="808" y="4" width="1" height="1" fill="#4a4a4a" shape-rendering="crispEdges"/>
<rect x="796" y="8" width="1" height="1" fill="#4a4a4a" shape-rendering="crispEdges"/>
<rect x="798" y="8" width="1" height="1" fill="#4a4a4a" shape-rendering="crispEdges"/>
<rect x="800" y="8" width="1" height="1" fill="#4a4a4a" shape-rendering="crispEdges"/>
<rect x="802" y="8" width="1" height="1" fill="#4a4a4a" shape-rendering="crispEdges"/>
<rect x="804" y="8" width="1" height="1" fill="#4a4a4a" shape-rendering="crispEdges"/>
<rect x="806" y="8" width="1" height="1" fill="#4a4a4a" shape-rendering="crispEdges"/>
<rect x="808" y="8" width="1" height="1" fill="#4a4a4a" shape-rendering="crispEdges"/>
<rect x="796" y="12" width="1" height="1" fill="#4a4a4a" shape-rendering="crispEdges"/>
<rect x="798" y="12" width="1" height="1" fill="#4a4a4a" shape-rendering="crispEdges"/>
<rect x="800" y="12" width="1" height="1" fill="#4a4a4a" shape-rendering="crispEdges"/>
<rect x="802" y="12" width="1" height="1" fill="#4a4a4a" shape-rendering="crispEdges"/>
<rect x="804" y="12" width="1" height="1" fill="#4a4a4a" shape-rendering="crispEdges"/>
<g opacity="0.99"><text x="806" y="16.8" font-size="7" fill="#3c3c3c" stroke="#3c3c3c" stroke-width="0.2" text-rendering="geometricPrecision" textLength="3.9" lengthAdjust="spacingAndGlyphs" font-weight="bold" xml:space="preserve">F</text></g>
<g opacity="0.99"><text x="826.7" y="12.9" font-size="12.8" fill="#585858" stroke="#585858" stroke-width="0.3" text-rendering="geometricPrecision" textLength="7.7" lengthAdjust="spacingAndGlyphs"  xml:space="preserve">A</text></g>
<rect x="853" y="2" width="1" height="1" fill="#4a4a4a" shape-rendering="crispEdges"/><rect x="853" y="14" width="1" height="1" fill="#4a4a4a" shape-rendering="crispEdges"/>
<rect x="855" y="2" width="1" height="1" fill="#4a4a4a" shape-rendering="crispEdges"/><rect x="855" y="14" width="1" height="1" fill="#4a4a4a" shape-rendering="crispEdges"/>
<rect x="857" y="2" width="1" height="1" fill="#4a4a4a" shape-rendering="crispEdges"/><rect x="857" y="14" width="1" height="1" fill="#4a4a4a" shape-rendering="crispEdges"/>
<rect x="859" y="2" width="1" height="1" fill="#4a4a4a" shape-rendering="crispEdges"/><rect x="859" y="14" width="1" height="1" fill="#4a4a4a" shape-rendering="crispEdges"/>
<rect x="861" y="2" width="1" height="1" fill="#4a4a4a" shape-rendering="crispEdges"/><rect x="861" y="14" width="1" height="1" fill="#4a4a4a" shape-rendering="crispEdges"/>
<rect x="863" y="2" width="1" height="1" fill="#4a4a4a" shape-rendering="crispEdges"/><rect x="863" y="14" width="1" height="1" fill="#4a4a4a" shape-rendering="crispEdges"/>
<rect x="853" y="2" width="1" height="1" fill="#4a4a4a" shape-rendering="crispEdges"/><rect x="864" y="2" width="1" height="1" fill="#4a4a4a" shape-rendering="crispEdges"/>
<rect x="853" y="4" width="1" height="1" fill="#4a4a4a" shape-rendering="crispEdges"/><rect x="864" y="4" width="1" height="1" fill="#4a4a4a" shape-rendering="crispEdges"/>
<rect x="853" y="6" width="1" height="1" fill="#4a4a4a" shape-rendering="crispEdges"/><rect x="864" y="6" width="1" height="1" fill="#4a4a4a" shape-rendering="crispEdges"/>
<rect x="853" y="8" width="1" height="1" fill="#4a4a4a" shape-rendering="crispEdges"/><rect x="864" y="8" width="1" height="1" fill="#4a4a4a" shape-rendering="crispEdges"/>
<rect x="853" y="10" width="1" height="1" fill="#4a4a4a" shape-rendering="crispEdges"/><rect x="864" y="10" width="1" height="1" fill="#4a4a4a" shape-rendering="crispEdges"/>
<rect x="853" y="12" width="1" height="1" fill="#4a4a4a" shape-rendering="crispEdges"/><rect x="864" y="12" width="1" height="1" fill="#4a4a4a" shape-rendering="crispEdges"/>
<rect x="853" y="14" width="1" height="1" fill="#4a4a4a" shape-rendering="crispEdges"/><rect x="864" y="14" width="1" height="1" fill="#4a4a4a" shape-rendering="crispEdges"/>
<rect x="852" y="1" width="2" height="1" fill="#4a4a4a" shape-rendering="crispEdges"/>
<path d="M855.1 6 H862.9 M859 6 V12.7" stroke="#585858" stroke-width="1.5" fill="none"/>
<path d="M879.7 5.3 L883.4 1.6 L887.3 5.3 L883.4 7.7 Z M886.7 11.9 L890.5 9.3 L894.1 11.9 L890.5 15.4 Z" fill="#4a4a4a"/><path d="M882.1 9.3 L884.4 11.6 L888.8 6.5" stroke="#4a4a4a" stroke-width="1.3" fill="none"/>
<path d="M900.7 6.8 L906.3000000000001 6.8 L903.5 10.1 Z" fill="#000"/>
<rect x="912" y="0" width="1" height="20" fill="#8c8c8c" shape-rendering="crispEdges"/>
<rect x="913" y="0" width="1" height="20" fill="#fcfcfc" shape-rendering="crispEdges"/>
<rect x="916" y="0" width="3" height="1" fill="#9c9c9c" shape-rendering="crispEdges"/>
<rect x="916" y="1" width="3" height="1" fill="#f6f6f6" shape-rendering="crispEdges"/>
<rect x="916" y="2" width="3" height="1" fill="#9c9c9c" shape-rendering="crispEdges"/>
<rect x="916" y="3" width="3" height="1" fill="#f6f6f6" shape-rendering="crispEdges"/>
<rect x="916" y="4" width="3" height="1" fill="#9c9c9c" shape-rendering="crispEdges"/>
<rect x="916" y="5" width="3" height="1" fill="#f6f6f6" shape-rendering="crispEdges"/>
<rect x="916" y="6" width="3" height="1" fill="#9c9c9c" shape-rendering="crispEdges"/>
<rect x="916" y="7" width="3" height="1" fill="#f6f6f6" shape-rendering="crispEdges"/>
<rect x="916" y="8" width="3" height="1" fill="#9c9c9c" shape-rendering="crispEdges"/>
<rect x="916" y="9" width="3" height="1" fill="#f6f6f6" shape-rendering="crispEdges"/>
<rect x="916" y="10" width="3" height="1" fill="#9c9c9c" shape-rendering="crispEdges"/>
<rect x="916" y="11" width="3" height="1" fill="#f6f6f6" shape-rendering="crispEdges"/>
<rect x="916" y="12" width="3" height="1" fill="#9c9c9c" shape-rendering="crispEdges"/>
<rect x="916" y="13" width="3" height="1" fill="#f6f6f6" shape-rendering="crispEdges"/>
<rect x="916" y="14" width="3" height="1" fill="#9c9c9c" shape-rendering="crispEdges"/>
<rect x="916" y="15" width="3" height="1" fill="#f6f6f6" shape-rendering="crispEdges"/>
<rect x="916" y="16" width="3" height="1" fill="#9c9c9c" shape-rendering="crispEdges"/>
<rect x="916" y="17" width="3" height="1" fill="#f6f6f6" shape-rendering="crispEdges"/>
<rect x="1063" y="0" width="24" height="18" fill="#f8f8f8" shape-rendering="crispEdges"/>
<rect x="1062" y="0" width="1" height="18" fill="#8c8c8c" shape-rendering="crispEdges"/>
<rect x="1087" y="0" width="1" height="19" fill="#fdfdfd" shape-rendering="crispEdges"/>
<rect x="1062" y="18" width="25" height="1" fill="#fdfdfd" shape-rendering="crispEdges"/>
<g opacity="0.99">
<text x="927.6" y="12.0" font-size="9.9" fill="#4c4c4c" stroke="#4c4c4c" stroke-width="0.2" text-rendering="geometricPrecision" textLength="12.9" lengthAdjust="spacingAndGlyphs"  xml:space="preserve">M1</text>
<text x="955.6" y="12.0" font-size="9.9" fill="#4c4c4c" stroke="#4c4c4c" stroke-width="0.2" text-rendering="geometricPrecision" textLength="12.8" lengthAdjust="spacingAndGlyphs"  xml:space="preserve">M5</text>
<text x="981.6" y="12.0" font-size="9.9" fill="#4c4c4c" stroke="#4c4c4c" stroke-width="0.2" text-rendering="geometricPrecision" textLength="17.9" lengthAdjust="spacingAndGlyphs"  xml:space="preserve">M15</text>
<text x="1009.6" y="12.0" font-size="9.9" fill="#4c4c4c" stroke="#4c4c4c" stroke-width="0.2" text-rendering="geometricPrecision" textLength="17.9" lengthAdjust="spacingAndGlyphs"  xml:space="preserve">M30</text>
<text x="1040.6" y="12.0" font-size="9.9" fill="#4c4c4c" stroke="#4c4c4c" stroke-width="0.2" text-rendering="geometricPrecision" textLength="11.9" lengthAdjust="spacingAndGlyphs"  xml:space="preserve">H1</text>
<text x="1067.6" y="12.0" font-size="9.9" fill="#4c4c4c" stroke="#4c4c4c" stroke-width="0.2" text-rendering="geometricPrecision" textLength="12.4" lengthAdjust="spacingAndGlyphs"  xml:space="preserve">H4</text>
<text x="1096.5" y="12.0" font-size="9.9" fill="#4c4c4c" stroke="#4c4c4c" stroke-width="0.2" text-rendering="geometricPrecision" textLength="12" lengthAdjust="spacingAndGlyphs"  xml:space="preserve">D1</text>
<text x="1124" y="12.0" font-size="9.9" fill="#4c4c4c" stroke="#4c4c4c" stroke-width="0.2" text-rendering="geometricPrecision" textLength="14.5" lengthAdjust="spacingAndGlyphs"  xml:space="preserve">W1</text>
<text x="1150.7" y="12.0" font-size="9.9" fill="#4c4c4c" stroke="#4c4c4c" stroke-width="0.2" text-rendering="geometricPrecision" textLength="14.8" lengthAdjust="spacingAndGlyphs"  xml:space="preserve">MN</text>
</g>
<rect x="1173" y="0" width="1" height="20" fill="#8c8c8c" shape-rendering="crispEdges"/>
<rect x="1174" y="0" width="1" height="20" fill="#fcfcfc" shape-rendering="crispEdges"/>
<path d="M1640.6 8.6 L1636 13" stroke="#2a5cd6" stroke-width="2.3" stroke-linecap="round"/><circle cx="1643.6" cy="5.4" r="4" fill="#f4f6ff" stroke="#2a5cd6" stroke-width="1.25"/>
<path d="M1660.2 10 A5.6 4.6 0 1 1 1666 14.6 L1663.4 16.8 L1663.6 14.3 A5.6 4.6 0 0 1 1660.2 10 Z" fill="#e2e4ea" stroke="#a4a4a4" stroke-width="0.9"/>
<circle cx="1674.6" cy="6" r="8.15" fill="url(#gr)"/>
<text x="1671.1" y="10.0" font-size="12" fill="#fff" stroke="#fff" stroke-width="0.3" text-rendering="geometricPrecision" textLength="6" lengthAdjust="spacingAndGlyphs"  xml:space="preserve">1</text>
</g>
</svg>
</body></html>
